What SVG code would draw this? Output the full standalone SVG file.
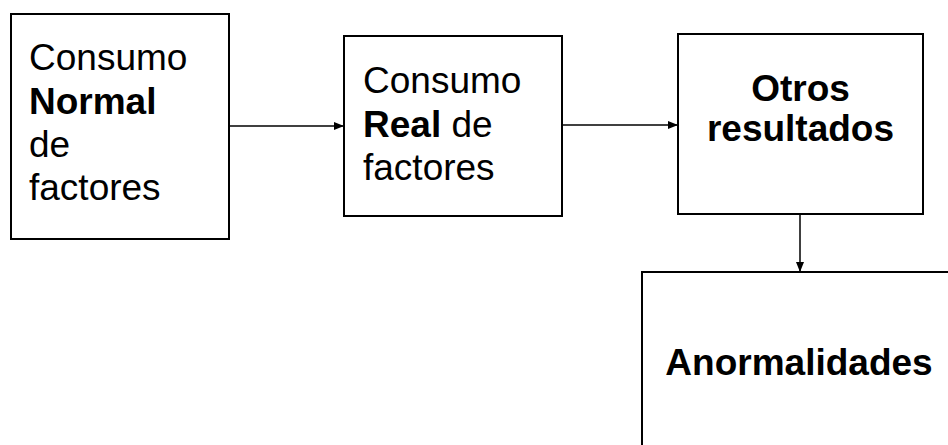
<svg xmlns="http://www.w3.org/2000/svg" width="948" height="445" viewBox="0 0 948 445">
<defs>
<style>
.box{fill:#fff;stroke:#000;stroke-width:2}
.t{font-family:"Liberation Sans",Arial,sans-serif;font-size:37px;fill:#000}
.b{font-weight:bold}
.c{text-anchor:middle}
.ln{stroke:#000;stroke-width:1.5;fill:none}
</style>
<marker id="ah" markerWidth="10" markerHeight="8" refX="9" refY="4" orient="auto" markerUnits="userSpaceOnUse">
<path d="M0,0 L10,4 L0,8 Z" fill="#000"/>
</marker>
</defs>
<rect width="948" height="445" fill="#fff"/>
<g id="n1">
<rect class="box" x="11" y="14" width="218" height="225"/>
<text class="t" x="29" y="70">Consumo</text>
<text class="t b" x="29" y="114">Normal</text>
<text class="t" x="29" y="157">de</text>
<text class="t" x="29" y="200">factores</text>
</g>
<g id="n2">
<rect class="box" x="344" y="36" width="218" height="180"/>
<text class="t" x="363" y="93">Consumo</text>
<text class="t" x="363" y="137"><tspan class="b">Real</tspan> de</text>
<text class="t" x="363" y="180">factores</text>
</g>
<g id="n3">
<rect class="box" x="678" y="34" width="245" height="180"/>
<text class="t b c" x="800.5" y="101">Otros</text>
<text class="t b c" x="800.5" y="141">resultados</text>
</g>
<g id="n4">
<rect class="box" x="642" y="272" width="320" height="190"/>
<text class="t b c" x="799" y="375">Anormalidades</text>
</g>
<g id="edges">
<line class="ln" x1="229" y1="126" x2="343" y2="126" marker-end="url(#ah)"/>
<line class="ln" x1="562" y1="125" x2="677" y2="125" marker-end="url(#ah)"/>
<line class="ln" x1="800" y1="214" x2="800" y2="271" marker-end="url(#ah)"/>
</g>
</svg>
